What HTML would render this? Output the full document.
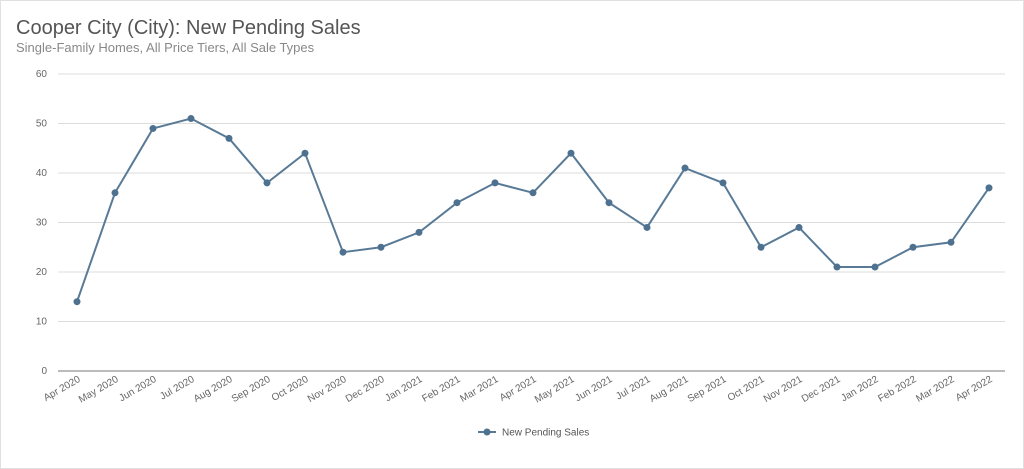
<!DOCTYPE html>
<html><head><style>
body{margin:0;background:#fff;}
svg{display:block;font-family:"Liberation Sans",sans-serif;}
</style></head><body>
<svg width="1024" height="469" viewBox="0 0 1024 469" xmlns="http://www.w3.org/2000/svg">
<rect x="0.5" y="0.5" width="1023" height="468" fill="#fff" stroke="#e0e0e0"/>
<text x="16" y="34" font-size="20" fill="#555">Cooper City (City): New Pending Sales</text>
<text x="16" y="52" font-size="13" fill="#888">Single-Family Homes, All Price Tiers, All Sale Types</text>
<g stroke="#dcdcdc" stroke-width="1">
<line x1="58" x2="1005" y1="74" y2="74"/>
<line x1="58" x2="1005" y1="123.5" y2="123.5"/>
<line x1="58" x2="1005" y1="173" y2="173"/>
<line x1="58" x2="1005" y1="222.5" y2="222.5"/>
<line x1="58" x2="1005" y1="272" y2="272"/>
<line x1="58" x2="1005" y1="321.5" y2="321.5"/>
</g>
<line x1="58" x2="1005" y1="371" y2="371" stroke="#777" stroke-width="1"/>
<g font-size="10" fill="#666" text-anchor="end">
<text x="47" y="77">60</text><text x="47" y="126.5">50</text><text x="47" y="176">40</text>
<text x="47" y="225.5">30</text><text x="47" y="275">20</text><text x="47" y="324.5">10</text><text x="47" y="374">0</text>
</g>
<g font-size="10" fill="#666" text-anchor="end">
<text transform="translate(81,381) rotate(-30)">Apr 2020</text>
<text transform="translate(119,381) rotate(-30)">May 2020</text>
<text transform="translate(157,381) rotate(-30)">Jun 2020</text>
<text transform="translate(195,381) rotate(-30)">Jul 2020</text>
<text transform="translate(233,381) rotate(-30)">Aug 2020</text>
<text transform="translate(271,381) rotate(-30)">Sep 2020</text>
<text transform="translate(309,381) rotate(-30)">Oct 2020</text>
<text transform="translate(347,381) rotate(-30)">Nov 2020</text>
<text transform="translate(385,381) rotate(-30)">Dec 2020</text>
<text transform="translate(423,381) rotate(-30)">Jan 2021</text>
<text transform="translate(461,381) rotate(-30)">Feb 2021</text>
<text transform="translate(499,381) rotate(-30)">Mar 2021</text>
<text transform="translate(537,381) rotate(-30)">Apr 2021</text>
<text transform="translate(575,381) rotate(-30)">May 2021</text>
<text transform="translate(613,381) rotate(-30)">Jun 2021</text>
<text transform="translate(651,381) rotate(-30)">Jul 2021</text>
<text transform="translate(689,381) rotate(-30)">Aug 2021</text>
<text transform="translate(727,381) rotate(-30)">Sep 2021</text>
<text transform="translate(765,381) rotate(-30)">Oct 2021</text>
<text transform="translate(803,381) rotate(-30)">Nov 2021</text>
<text transform="translate(841,381) rotate(-30)">Dec 2021</text>
<text transform="translate(879,381) rotate(-30)">Jan 2022</text>
<text transform="translate(917,381) rotate(-30)">Feb 2022</text>
<text transform="translate(955,381) rotate(-30)">Mar 2022</text>
<text transform="translate(993,381) rotate(-30)">Apr 2022</text>
</g>
<polyline fill="none" stroke="#587a96" stroke-width="2" points="77,301.7 115,192.8 153,128.45 191,118.55 229,138.35 267,182.9 305,153.2 343,252.2 381,247.25 419,232.4 457,202.7 495,182.9 533,192.8 571,153.2 609,202.7 647,227.45 685,168.05 723,182.9 761,247.25 799,227.45 837,267.05 875,267.05 913,247.25 951,242.3 989,187.85"/>
<g fill="#4f7190">
<circle cx="77" cy="301.7" r="3.5"/><circle cx="115" cy="192.8" r="3.5"/><circle cx="153" cy="128.45" r="3.5"/><circle cx="191" cy="118.55" r="3.5"/><circle cx="229" cy="138.35" r="3.5"/><circle cx="267" cy="182.9" r="3.5"/><circle cx="305" cy="153.2" r="3.5"/><circle cx="343" cy="252.2" r="3.5"/><circle cx="381" cy="247.25" r="3.5"/><circle cx="419" cy="232.4" r="3.5"/><circle cx="457" cy="202.7" r="3.5"/><circle cx="495" cy="182.9" r="3.5"/><circle cx="533" cy="192.8" r="3.5"/><circle cx="571" cy="153.2" r="3.5"/><circle cx="609" cy="202.7" r="3.5"/><circle cx="647" cy="227.45" r="3.5"/><circle cx="685" cy="168.05" r="3.5"/><circle cx="723" cy="182.9" r="3.5"/><circle cx="761" cy="247.25" r="3.5"/><circle cx="799" cy="227.45" r="3.5"/><circle cx="837" cy="267.05" r="3.5"/><circle cx="875" cy="267.05" r="3.5"/><circle cx="913" cy="247.25" r="3.5"/><circle cx="951" cy="242.3" r="3.5"/><circle cx="989" cy="187.85" r="3.5"/>
</g>
<line x1="478" x2="496" y1="432" y2="432" stroke="#587a96" stroke-width="2"/>
<circle cx="487" cy="432" r="3.5" fill="#4f7190"/>
<text x="502" y="435.5" font-size="10" fill="#555">New Pending Sales</text>
</svg>
</body></html>
